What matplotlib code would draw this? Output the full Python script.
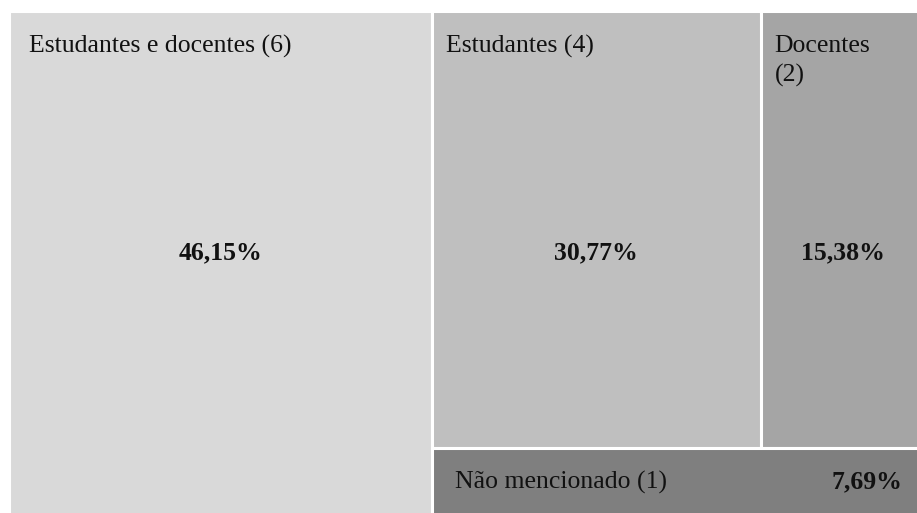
import matplotlib
matplotlib.use("Agg")
import matplotlib.pyplot as plt
from matplotlib.patches import Rectangle

# ---- data ----
names = ["Estudantes e docentes", "Estudantes", "Docentes", "Não mencionado"]
counts = [6, 4, 2, 1]
colors = ["#d9d9d9", "#bfbfbf", "#a5a5a5", "#7f7f7f"]

total = sum(counts)
shares = [c / total for c in counts]

FONT = ["Liberation Serif", "DejaVu Serif"]

fig = plt.figure(figsize=(9.17, 5.13), dpi=100)
# treemap area (extends slightly past the picture edges, as in the reference)
AX_L, AX_T, AX_W, AX_H = 9, 11, 916, 510
ax = fig.add_axes([AX_L / 917, (513 - AX_T - AX_H) / 513, AX_W / 917, AX_H / 513])
ax.set_xlim(0, 1)
ax.set_ylim(1, 0)
ax.axis("off")

# ---- layout computed from values (Excel-like treemap) ----
w0 = shares[0]
rest = 1 - w0
top_h = (shares[1] + shares[2]) / rest
w1 = (1 - w0) * shares[1] / (shares[1] + shares[2])
rects = [
    (0, 0, w0, 1),
    (w0, 0, w1, top_h),
    (w0 + w1, 0, 1 - w0 - w1, top_h),
    (w0, top_h, 1 - w0, 1 - top_h),
]

for (x, y, w, h), col in zip(rects, colors):
    ax.add_patch(Rectangle((x, y), w, h, facecolor=col, edgecolor="white",
                           linewidth=2.2, clip_on=False))

pads = [20, 14, 14]
for i, ((x, y, w, h), name, c, s) in enumerate(zip(rects, names, counts, shares)):
    wpx = w * AX_W
    sep = "\n" if wpx < 200 else " "
    label = f"{name}{sep}({c})"
    pct = f"{s * 100:.2f}%".replace(".", ",")
    if i < 3:
        ax.annotate(label, xy=(x, y), xytext=(pads[i], -24), textcoords="offset pixels",
                    ha="left", va="top", fontsize=18.5, family=FONT,
                    color="#111111", linespacing=1.4)
        ax.text(x + w / 2, 0.4745, pct, ha="center", va="center",
                fontsize=18.5, fontweight="bold", family=FONT, color="#111111")
    else:
        ax.annotate(label, xy=(x, y), xytext=(23, -34), textcoords="offset pixels",
                    ha="left", va="center", fontsize=18.5, family=FONT, color="#111111")
        ax.annotate(pct, xy=(x + w, y), xytext=(-23, -34), textcoords="offset pixels",
                    ha="right", va="center", fontsize=18.5, fontweight="bold",
                    family=FONT, color="#111111")

fig.savefig("out.png", dpi=100)
